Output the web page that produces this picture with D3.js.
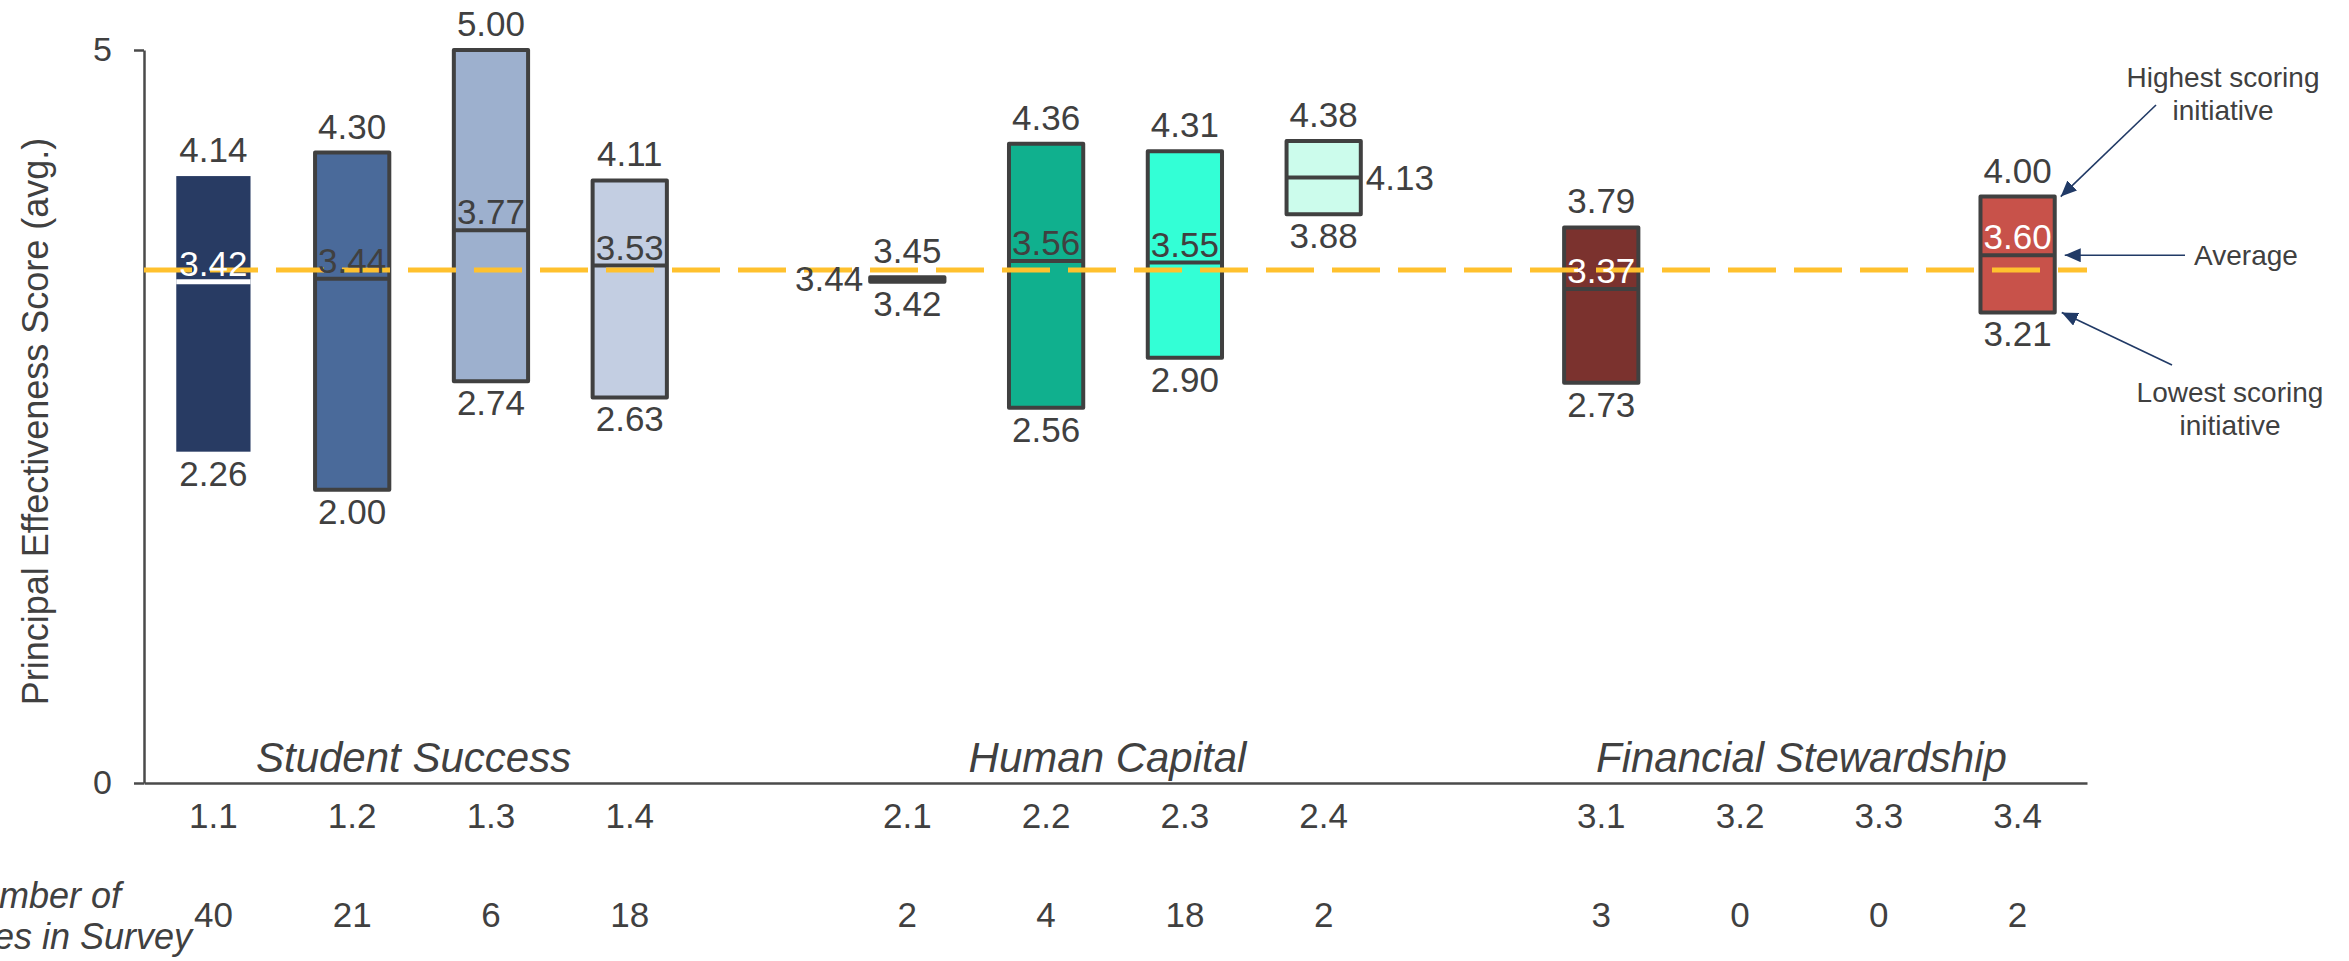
<!DOCTYPE html>
<html><head><meta charset="utf-8">
<script src="https://cdn.jsdelivr.net/npm/d3@7"></script>
<style>
body{margin:0;background:#fff}
svg{display:block}
text{font-family:"Liberation Sans",Arial,Helvetica,sans-serif}
</style>
</head><body>
<svg id="chart" width="2349" height="961"></svg>
<script>
// ---------- data ----------
const categories = ["1.1","1.2","1.3","1.4","2.1","2.2","2.3","2.4","3.1","3.2","3.3","3.4"];
const groupNames = ["Student Success","Human Capital","Financial Stewardship"];
const groupOf    = [0,0,0,0,1,1,1,1,2,2,2,2];
const maxValues  = [4.14,4.30,5.00,4.11,3.45,4.36,4.31,4.38,3.79,null,null,4.00];
const avgValues  = [3.42,3.44,3.77,3.53,3.44,3.56,3.55,4.13,3.37,null,null,3.60];
const minValues  = [2.26,2.00,2.74,2.63,3.42,2.56,2.90,3.88,2.73,null,null,3.21];
const counts     = [40,21,6,18,2,4,18,2,3,0,0,2];
const overallAverage = 3.5;
const yTickValues = [0,5];
const yAxisTitle = "Principal Effectiveness Score (avg.)";
const countTitle = ["Number of","Initiatives in Survey"];
const annotations = ["Highest scoring|initiative","Average","Lowest scoring|initiative"];

// ---------- styles ----------
const fills = ["#283B63","#4A6A9A","#9DB0CE","#C3CEE2","#404040","#10B08E","#33FFD6","#CCFCEC","#7B322E",null,null,"#C8524A"];
const outlined = [false,true,true,true,true,true,true,true,true,false,false,true];
const medianLineColors = ["#ffffff","#404040","#404040","#404040","#404040","#404040","#404040","#404040","#404040",null,null,"#404040"];
const avgLabelColors = ["#ffffff","#404040","#404040","#404040","#404040","#404040","#404040","#404040","#ffffff",null,null,"#ffffff"];
const avgLabelPlacement = ["above","above","above","above","left","above","above","right","above",null,null,"above"];
const textColor = "#404040";
const axisColor = "#4a4a4a";
const avgColor = "#FFC12E";
const arrowColor = "#213A66";

// ---------- layout ----------
const W = 2349, H = 961;
const plotLeft = 144, plotRight = 2087, plotTop = 50, plotBottom = 783;
const svg = d3.select("#chart");

const slots = [];
groupNames.forEach((g, gi) => {
  if (gi > 0) slots.push("gap" + gi);
  categories.forEach((c, i) => { if (groupOf[i] === gi) slots.push(c); });
});
const x = d3.scaleBand().domain(slots).range([plotLeft, plotRight]).paddingInner(0).paddingOuter(0);
const y = d3.scaleLinear().domain([0, 5]).range([plotBottom, plotTop]);
const cx = c => x(c) + x.bandwidth() / 2;
const bw = x.bandwidth() * 0.535;

const rows = categories.map((c, i) => ({
  c, i, max: maxValues[i], avg: avgValues[i], min: minValues[i], n: counts[i],
  fill: fills[i], outlined: outlined[i], mcol: medianLineColors[i],
  lcol: avgLabelColors[i], place: avgLabelPlacement[i]
}));
const boxes = rows.filter(d => d.max != null);

// ---------- axes ----------
const yAxis = svg.append("g").attr("transform", `translate(${plotLeft},0)`)
  .call(d3.axisLeft(y).tickValues(yTickValues).tickFormat(d3.format("d")).tickSize(10).tickSizeOuter(0).tickPadding(22));
yAxis.select(".domain").attr("stroke", axisColor).attr("stroke-width", 2.5);
yAxis.selectAll(".tick line").attr("stroke", axisColor).attr("stroke-width", 2.5);
yAxis.selectAll(".tick text").attr("fill", textColor).attr("font-size", 34);

const xAxis = svg.append("g").attr("transform", `translate(0,${plotBottom})`)
  .call(d3.axisBottom(x).tickValues(categories).tickSize(0).tickSizeOuter(0).tickPadding(20));
xAxis.select(".domain").attr("stroke", axisColor).attr("stroke-width", 2.5);
xAxis.selectAll(".tick text").attr("fill", textColor).attr("font-size", 35);

// count row
svg.append("g").selectAll("text").data(rows).join("text")
  .attr("x", d => cx(d.c)).attr("y", 927)
  .attr("text-anchor", "middle").attr("font-size", 35).attr("fill", textColor)
  .text(d => d.n);
svg.append("text").attr("x", 37).attr("text-anchor", "middle")
  .attr("font-size", 36).attr("font-style", "italic").attr("fill", textColor)
  .selectAll("tspan").data(countTitle).join("tspan")
  .attr("x", 37).attr("y", (d, k) => 908 + k * 41).text(d => d);

// y title
svg.append("text").attr("transform", `translate(48,${(plotTop + plotBottom) / 2 + 5}) rotate(-90)`)
  .attr("text-anchor", "middle").attr("font-size", 36).attr("fill", textColor).text(yAxisTitle);

// group labels
groupNames.forEach((g, gi) => {
  const cs = categories.filter((c, i) => groupOf[i] === gi);
  const mid = d3.mean(cs, cx);
  svg.append("text").attr("x", mid - 8).attr("y", 772)
    .attr("text-anchor", "middle").attr("font-size", 42).attr("font-style", "italic")
    .attr("fill", textColor).text(g);
});

// ---------- boxes ----------
const gBox = svg.append("g");
gBox.selectAll("rect").data(boxes).join("rect")
  .attr("x", d => cx(d.c) - bw / 2).attr("width", bw)
  .attr("y", d => y(d.max)).attr("height", d => y(d.min) - y(d.max))
  .attr("fill", d => d.fill)
  .attr("stroke", d => d.outlined ? "#404040" : "none")
  .attr("stroke-width", 4).attr("stroke-linejoin", "round");
gBox.selectAll("line").data(boxes).join("line")
  .attr("x1", d => cx(d.c) - bw / 2).attr("x2", d => cx(d.c) + bw / 2)
  .attr("y1", d => y(d.avg)).attr("y2", d => y(d.avg))
  .attr("stroke", d => d.mcol).attr("stroke-width", d => d.outlined ? 4 : 5);

// average dashed line
svg.append("line").attr("x1", plotLeft).attr("x2", plotRight)
  .attr("y1", y(overallAverage)).attr("y2", y(overallAverage))
  .attr("stroke", avgColor).attr("stroke-width", 5).attr("stroke-dasharray", "48,18");

// ---------- value labels ----------
const gLab = svg.append("g").attr("font-size", 35);
gLab.selectAll("text.max").data(boxes).join("text").attr("class", "max")
  .attr("x", d => cx(d.c)).attr("y", d => y(d.max) - 14)
  .attr("text-anchor", "middle").attr("fill", textColor).text(d => d.max.toFixed(2));
gLab.selectAll("text.min").data(boxes).join("text").attr("class", "min")
  .attr("x", d => cx(d.c)).attr("y", d => y(d.min) + 34)
  .attr("text-anchor", "middle").attr("fill", textColor).text(d => d.min.toFixed(2));
gLab.selectAll("text.avg").data(boxes).join("text").attr("class", "avg")
  .attr("x", d => d.place === "left" ? cx(d.c) - bw / 2 - 7 : d.place === "right" ? cx(d.c) + bw / 2 + 5 : cx(d.c))
  .attr("y", d => d.place === "above" ? y(d.avg) - 6 : y(d.avg))
  .attr("dy", d => d.place === "above" ? 0 : "0.35em")
  .attr("text-anchor", d => d.place === "left" ? "end" : d.place === "right" ? "start" : "middle")
  .attr("fill", d => d.lcol).text(d => d.avg.toFixed(2));

// ---------- annotations ----------
svg.append("defs").append("marker").attr("id", "ah")
  .attr("viewBox", "0 0 16 14").attr("refX", 16).attr("refY", 7)
  .attr("markerWidth", 16).attr("markerHeight", 14).attr("markerUnits", "userSpaceOnUse")
  .attr("orient", "auto")
  .append("path").attr("d", "M0,0 L16,7 L0,14 Z").attr("fill", arrowColor);

const ref = rows[rows.length - 1];
const edge = cx(ref.c) + bw / 2;
const arrows = [
  {from: [2156, 105], to: [edge + 6, y(ref.max)]},
  {from: [2185, y(ref.avg)], to: [edge + 10, y(ref.avg)]},
  {from: [2172, 365], to: [edge + 7, y(ref.min)]}
];
svg.append("g").selectAll("line").data(arrows).join("line")
  .attr("x1", d => d.from[0]).attr("y1", d => d.from[1])
  .attr("x2", d => d.to[0]).attr("y2", d => d.to[1])
  .attr("stroke", arrowColor).attr("stroke-width", 1.6).attr("marker-end", "url(#ah)");

const annPos = [{x: 2223, y: 87}, {x: 2246, y: 265}, {x: 2230, y: 402}];
annotations.forEach((a, k) => {
  const t = svg.append("text").attr("text-anchor", "middle").attr("font-size", 28).attr("fill", textColor);
  a.split("|").forEach((line, j) => {
    t.append("tspan").attr("x", annPos[k].x).attr("y", annPos[k].y + j * 33).text(line);
  });
});
</script>
</body></html>
